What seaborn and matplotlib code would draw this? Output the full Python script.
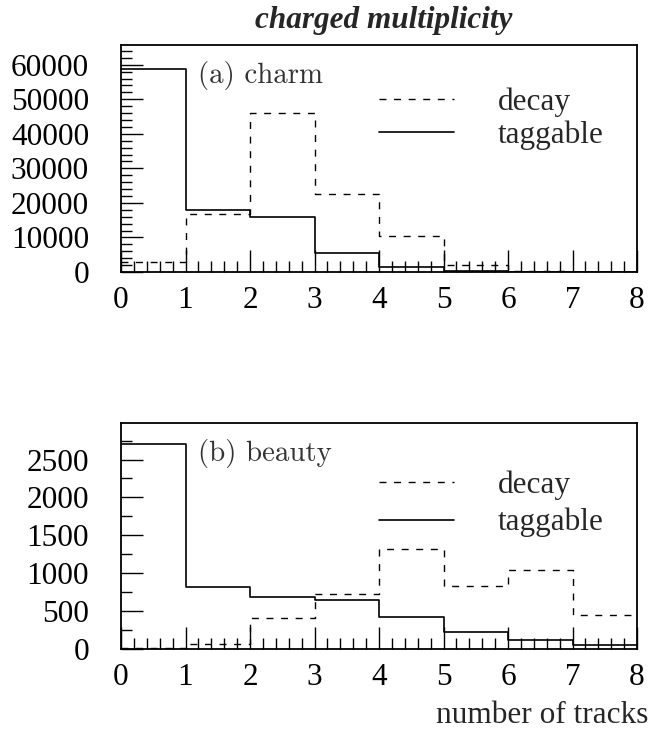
import numpy as np
import pandas as pd
import matplotlib
matplotlib.use("Agg")
import matplotlib.pyplot as plt
from matplotlib.lines import Line2D
from matplotlib.ticker import MultipleLocator
import seaborn as sns

edges = [0, 1, 2, 3, 4, 5, 6, 7, 8]
tracks = [0.5, 1.5, 2.5, 3.5, 4.5, 5.5, 6.5, 7.5]

charm_decay = [2800, 16700, 46000, 22500, 10300, 1900, 400, 100]
charm_taggable = [58800, 18000, 16000, 5400, 1500, 300, 100, 30]

beauty_decay = [10, 60, 405, 722, 1313, 833, 1040, 450]
beauty_taggable = [2700, 815, 692, 648, 418, 229, 115, 53]

sns.set_theme(style="ticks")
plt.rcParams["font.family"] = ["Liberation Serif", "DejaVu Serif"]

W, H = 659, 736
fig = plt.figure(figsize=(W / 100, H / 100), dpi=100)
left = 121 / W
width = 516 / W
ax1 = fig.add_axes([left, 1 - 272 / H, width, 227 / H])
ax2 = fig.add_axes([left, 1 - 649 / H, width, 226 / H])

DASH = (0, (5, 5.5))

def draw(ax, decay, tagg, label, ymax, major, minor, leg_y, leg_sp):
    df = pd.DataFrame({"tracks": tracks, "decay": decay, "taggable": tagg})
    sns.histplot(data=df, x="tracks", weights="decay", bins=edges, element="step",
                 fill=False, color="black", linestyle=DASH, linewidth=1.0, ax=ax)
    sns.histplot(data=df, x="tracks", weights="taggable", bins=edges, element="step",
                 fill=False, color="black", linewidth=1.2, ax=ax)
    ax.set_xlim(0, 8)
    ax.set_ylim(0, ymax)
    ax.set_xlabel("")
    ax.set_ylabel("")
    ax.xaxis.set_major_locator(MultipleLocator(1))
    ax.xaxis.set_minor_locator(MultipleLocator(0.2))
    ax.yaxis.set_major_locator(MultipleLocator(major))
    ax.yaxis.set_minor_locator(MultipleLocator(minor))
    ax.tick_params(axis="both", which="major", direction="in", length=16, width=1.0,
                   labelsize=22.5, color="black", labelcolor="black")
    ax.tick_params(axis="both", which="minor", direction="in", length=8, width=1.0,
                   color="black")
    ax.tick_params(axis="x", which="major", pad=10)
    ax.tick_params(axis="y", which="major", pad=23)
    for s in ax.spines.values():
        s.set_visible(True)
        s.set_linewidth(1.3)
        s.set_color("black")
    ax.text(0.149, 0.833, label, transform=ax.transAxes, fontsize=20.8, family="cmr10",
            color="#333333", va="baseline", ha="left")
    handles = [Line2D([], [], color="black", linestyle=DASH, linewidth=1.0),
               Line2D([], [], color="black", linewidth=1.2)]
    ax.legend(handles, ["decay", "taggable"], loc="upper left",
              bbox_to_anchor=(0.47, leg_y), frameon=False, fontsize=22.5,
              handlelength=2.4, handletextpad=1.4, labelspacing=leg_sp, borderpad=0)

draw(ax1, charm_decay, charm_taggable, "(a) charm", 65700, 10000, 2000, 0.883, 0.12)
draw(ax2, beauty_decay, beauty_taggable, "(b) beauty", 2982, 500, 250, 0.861, 0.27)

fig.text(384 / W, 1 - 28 / H, "charged multiplicity", ha="center", va="baseline",
         fontsize=22.5, fontweight="bold", fontstyle="italic")
fig.text(648 / W, 1 - 723 / H, "number of tracks", ha="right", va="baseline",
         fontsize=22.5)

fig.savefig("out.png", dpi=100)
